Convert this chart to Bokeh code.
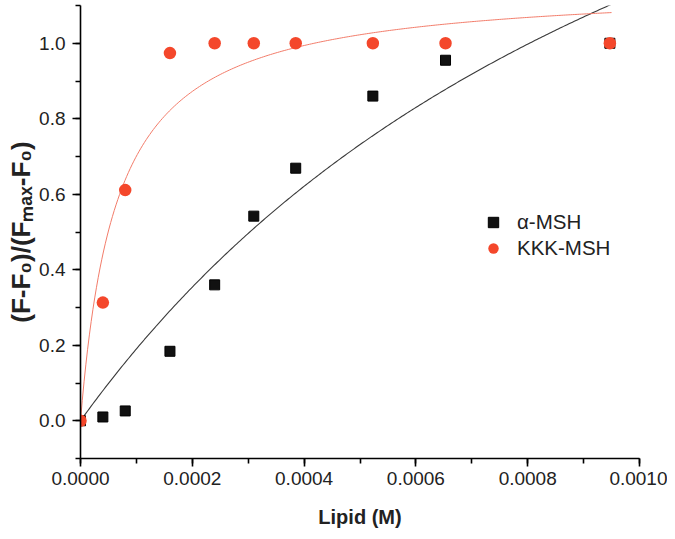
import numpy as np
from bokeh.plotting import figure
from bokeh.models import (Range1d, SingleIntervalTicker, NumeralTickFormatter,
                          Legend, LegendItem, ColumnDataSource)
from bokeh.embed import file_html
from bokeh.resources import INLINE

# ---- data ----
lipid = [0.0, 0.00004, 0.00008, 0.00016, 0.00024, 0.00031, 0.000385, 0.000523, 0.000653, 0.000947]
alpha_msh = [0.0, 0.010, 0.026, 0.184, 0.360, 0.542, 0.669, 0.860, 0.955, 1.0]
kkk_msh = [0.0, 0.313, 0.611, 0.974, 1.0, 1.0, 1.0, 1.0, 1.0, 1.0]

# hyperbolic binding fits (Bmax, Kd) estimated from the drawn curves
alpha_fit = (2.534, 1.232e-3)
kkk_fit = (1.155, 6.48e-5)
fit_x_max = 0.00095

x_ticks_fmt = "0.0000"
y_ticks_fmt = "0.0"

FONT = "Liberation Sans"
RED = "#F4472B"

p = figure(width=667, height=531, output_backend="svg", toolbar_location=None,
           x_range=Range1d(0, 0.001), y_range=Range1d(-0.1, 1.1),
           min_border_left=80, min_border_right=28, min_border_top=5,
           min_border_bottom=73)
p.outline_line_color = None
p.xgrid.visible = False
p.ygrid.visible = False
p.background_fill_color = "white"

xf = np.linspace(0, fit_x_max, 300)
src_fit = ColumnDataSource(dict(
    x=xf,
    ya=alpha_fit[0] * xf / (alpha_fit[1] + xf),
    yk=kkk_fit[0] * xf / (kkk_fit[1] + xf),
))
p.line("x", "ya", source=src_fit, line_color="#3a3a3a", line_width=1.1)
p.line("x", "yk", source=src_fit, line_color="#F27C6A", line_width=1.0)

src = ColumnDataSource(dict(x=lipid, a=alpha_msh, k=kkk_msh))
r_a = p.scatter("x", "a", source=src, marker="square", size=10,
                fill_color="#111111", line_color="#000000", line_width=1)
r_k = p.scatter("x", "k", source=src, marker="circle", size=12.5,
                fill_color=RED, line_color=None)

# axes
for ax in (p.xaxis[0], p.yaxis[0]):
    ax.axis_line_color = "black"
    ax.axis_line_width = 1.6
    ax.major_tick_line_color = "black"
    ax.major_tick_line_width = 1.6
    ax.minor_tick_line_color = "black"
    ax.minor_tick_line_width = 1.6
    ax.major_tick_in = 0
    ax.major_tick_out = 8
    ax.minor_tick_in = 0
    ax.minor_tick_out = 5
    ax.major_label_text_font = FONT
    ax.major_label_text_font_size = "19px"
    ax.major_label_text_color = "#222222"
    ax.axis_label_text_font = FONT
    ax.axis_label_text_font_style = "bold"
    ax.axis_label_text_color = "#222222"

p.xaxis.axis_label_text_font_size = "20px"
p.yaxis.axis_label_text_font_size = "26px"
p.xaxis.ticker = SingleIntervalTicker(interval=0.0002, num_minor_ticks=2)
p.yaxis.ticker = SingleIntervalTicker(interval=0.2, num_minor_ticks=2)
p.xaxis.formatter = NumeralTickFormatter(format=x_ticks_fmt)
p.yaxis.formatter = NumeralTickFormatter(format=y_ticks_fmt)
p.xaxis.major_label_standoff = 5
p.yaxis.major_label_standoff = 7
p.xaxis.axis_label = "Lipid (M)"
p.yaxis.axis_label = "(F-F\u2080)/(F\u2098\u2090\u2093-F\u2080)"
p.xaxis.axis_label_standoff = 18
p.yaxis.axis_label_standoff = 0

legend = Legend(items=[LegendItem(label="\u03b1-MSH", renderers=[r_a]),
                       LegendItem(label="KKK-MSH", renderers=[r_k])],
                location=(400, 197), border_line_color=None,
                background_fill_alpha=0, padding=0, margin=0, spacing=0,
                label_text_font=FONT, label_text_font_size="20.5px",
                label_text_color="#222222", label_standoff=11,
                glyph_width=26, glyph_height=26, label_height=26)
p.add_layout(legend)

open("out.html", "w").write(file_html(p, INLINE))
